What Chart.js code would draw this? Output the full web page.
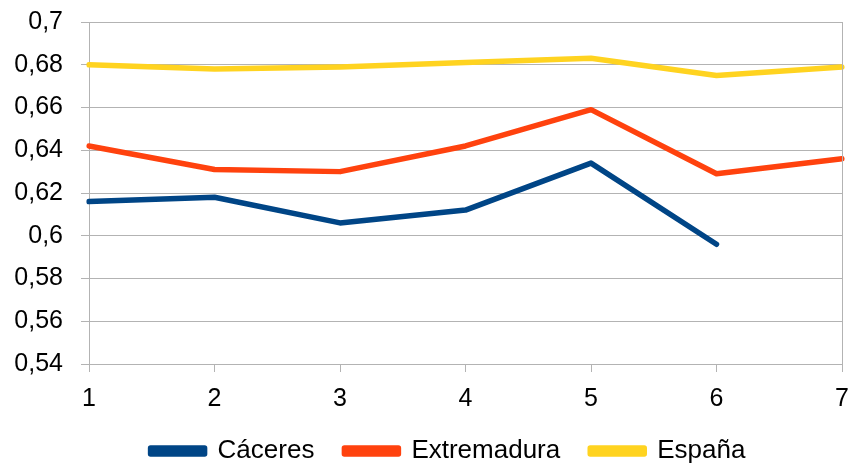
<!DOCTYPE html>
<html>
<head>
<meta charset="utf-8">
<script src="https://cdn.jsdelivr.net/npm/chart.js@4"></script>
<style>
  html, body { margin: 0; padding: 0; background: #fff; }
  #wrap { width: 850px; height: 465px; position: relative; }
</style>
</head>
<body>
<div id="wrap"><canvas id="chart"></canvas></div>
<script>
// ── data ─────────────────────────────────────────────────────────────────────
const labels      = ['1', '2', '3', '4', '5', '6', '7'];
const caceres     = [0.616, 0.618, 0.606, 0.612, 0.634, 0.596, null];
const extremadura = [0.642, 0.631, 0.630, 0.642, 0.659, 0.629, 0.636];
const espana      = [0.680, 0.678, 0.679, 0.681, 0.683, 0.675, 0.679];

const FONT = '"Liberation Sans", Arial, sans-serif';
const GRID = '#b3b3b3';

// right edge of the plot frame (LibreOffice draws a closed wall)
const frameRight = {
  id: 'frameRight',
  afterDraw(chart) {
    const { ctx, chartArea: a } = chart;
    ctx.save();
    ctx.strokeStyle = GRID;
    ctx.lineWidth = 1;
    ctx.beginPath();
    ctx.moveTo(Math.round(a.right) + 0.5, a.top);
    ctx.lineTo(Math.round(a.right) + 0.5, a.bottom);
    ctx.stroke();
    ctx.restore();
  }
};

// legend sits a little right of the canvas centre in the original
const legendNudge = {
  id: 'legendNudge',
  afterLayout(chart) {
    if (chart.legend) chart.legend.left += 46;
  }
};

const fmt = v => String(Math.round(v * 100) / 100).replace('.', ',');

const line = (label, data, color) => ({
  label, data, borderColor: color, backgroundColor: color,
  borderWidth: 5.5, pointRadius: 0, tension: 0, spanGaps: false,
  borderCapStyle: 'round', borderJoinStyle: 'round'
});

new Chart(document.getElementById('chart'), {
  type: 'line',
  data: {
    labels,
    datasets: [
      line('Cáceres', caceres, '#004586'),
      line('Extremadura', extremadura, '#ff420e'),
      line('España', espana, '#ffd320')
    ]
  },
  options: {
    responsive: true,
    maintainAspectRatio: false,
    animation: false,
    layout: { padding: { top: 22, right: 0, left: 0, bottom: -9 } },
    plugins: {
      tooltip: { enabled: false },
      legend: {
        position: 'bottom',
        labels: {
          color: '#000',
          font: { family: FONT, size: 26 },
          boxWidth: 54, boxHeight: 6,
          padding: 30
        }
      }
    },
    scales: {
      x: {
        offset: false,
        afterFit: s => { s.height -= 18; s.paddingRight = 8; },
        grid: { drawOnChartArea: false, drawTicks: true, tickLength: 8, color: GRID },
        border: { display: true, color: GRID },
        ticks: { color: '#000', font: { family: FONT, size: 25 }, padding: 12, maxRotation: 0 }
      },
      y: {
        min: 0.54, max: 0.7,
        afterFit: s => { s.width = 89; s.paddingTop = 0; s.paddingBottom = 0; },
        grid: { color: GRID, tickLength: 8 },
        border: { display: true, color: GRID },
        ticks: {
          stepSize: 0.02, color: '#000', padding: 18,
          font: { family: FONT, size: 25 },
          callback: fmt
        }
      }
    }
  },
  plugins: [frameRight, legendNudge]
});
</script>
</body>
</html>
